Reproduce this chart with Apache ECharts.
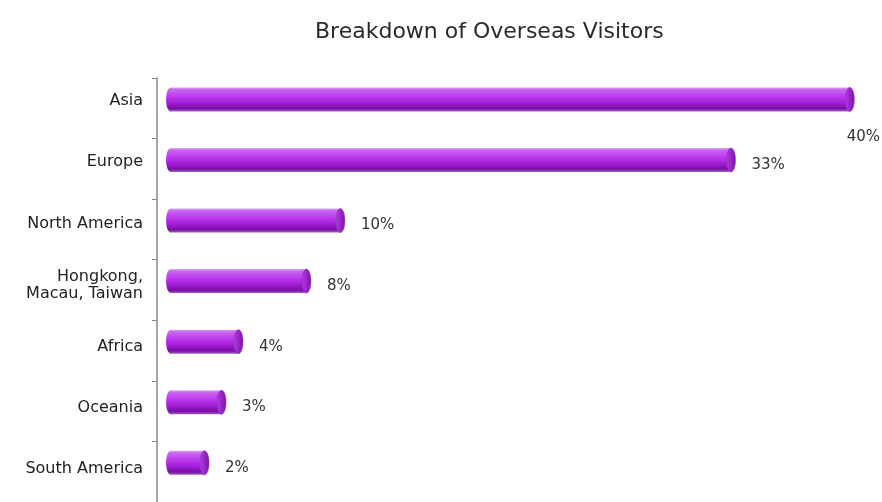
<!DOCTYPE html>
<html>
<head>
<meta charset="utf-8">
<script src="https://cdn.jsdelivr.net/npm/echarts@6/dist/echarts.min.js"></script>
<style>html,body{margin:0;padding:0;background:#fff;}#c{width:882px;height:502px;}</style>
</head>
<body>
<div id="c"></div>
<script>
var categories = ["Asia", "Europe", "North America", "Hongkong,\nMacau, Taiwan", "Africa", "Oceania", "South America"];
var values = [40, 33, 10, 8, 4, 3, 2];
var valueLabels = ["40%", "33%", "10%", "8%", "4%", "3%", "2%"];
var titleText = "Breakdown of Overseas Visitors";

var chart = echarts.init(document.getElementById('c'), null, {renderer: 'canvas'});
var seriesData = values.map(function (v, i) { return [i, v]; });

var bodyGrad = new echarts.graphic.LinearGradient(0, 0, 0, 1, [
  {offset: 0, color: '#d9a6ee'},
  {offset: 0.1, color: '#c865ee'},
  {offset: 0.32, color: '#bf42f0'},
  {offset: 0.62, color: '#a71fda'},
  {offset: 0.88, color: '#7a0ea6'},
  {offset: 1, color: '#9c62b8'}
]);
var capGrad = new echarts.graphic.LinearGradient(0, 0, 1, 0, [
  {offset: 0, color: '#b43ae6'},
  {offset: 1, color: '#7c12aa'}
]);

chart.setOption({
  animation: false,
  backgroundColor: '#ffffff',
  title: {
    text: titleText,
    left: 310,
    top: 16,
    textStyle: {fontFamily: 'DejaVu Sans', fontSize: 22, fontWeight: 'normal', color: '#2a2a2a'}
  },
  grid: [
    {left: 157, right: 5, top: 78, height: 430},
    {left: 157, right: 5, top: 70, height: 430}
  ],
  xAxis: [
    {type: 'value', gridIndex: 0, min: -0.8, max: 41.6, show: false},
    {type: 'value', gridIndex: 1, min: -0.8, max: 41.6, show: false}
  ],
  yAxis: [
    {
      type: 'category',
      gridIndex: 0,
      inverse: true,
      data: categories,
      axisLine: {show: true, onZero: false, lineStyle: {color: '#8a8a8a', width: 1.5}},
      axisTick: {show: true, length: 5, lineStyle: {color: '#8a8a8a'}},
      axisLabel: {show: false}
    },
    {
      type: 'category',
      gridIndex: 1,
      inverse: true,
      data: categories,
      axisLine: {show: false, onZero: false},
      axisTick: {show: false},
      axisLabel: {
        margin: 14,
        fontFamily: 'DejaVu Sans', fontSize: 16, color: '#222',
        lineHeight: 17
      }
    }
  ],
  series: [{
    type: 'custom',
    xAxisIndex: 0,
    yAxisIndex: 0,
    encode: {x: 1, y: 0},
    data: seriesData,
    clip: false,
    renderItem: function (params, api) {
      var idx = api.value(0);
      var v = api.value(1);
      var p0 = api.coord([0, idx]);
      var p1 = api.coord([v, idx]);
      var band = api.size([0, 1])[1];
      var cy = p0[1] - band * 0.147;
      var h = 24;
      var rx = 4.5;
      var label = valueLabels[idx];
      var chartW = api.getWidth();
      var tx, ty, align;
      if (p1[0] + rx + 60 > chartW) {
        tx = chartW - 2; ty = cy + 38; align = 'right';
      } else {
        tx = p1[0] + rx + 16; ty = cy + 5; align = 'left';
      }
      return {
        type: 'group',
        children: [
          {type: 'ellipse', shape: {cx: p0[0], cy: cy, rx: rx, ry: h / 2}, style: {fill: bodyGrad}},
          {type: 'rect', shape: {x: p0[0], y: cy - h / 2, width: p1[0] - p0[0], height: h}, style: {fill: bodyGrad}},
          {type: 'ellipse', shape: {cx: p1[0], cy: cy, rx: rx, ry: h / 2}, style: {fill: capGrad, stroke: '#8d3ab5', lineWidth: 0.6}},
          {type: 'text', style: {text: label, x: tx, y: ty, align: align, verticalAlign: 'middle',
            fontFamily: 'DejaVu Sans', fontSize: 15, fill: '#333'}}
        ]
      };
    }
  }]
});
</script>
</body>
</html>
